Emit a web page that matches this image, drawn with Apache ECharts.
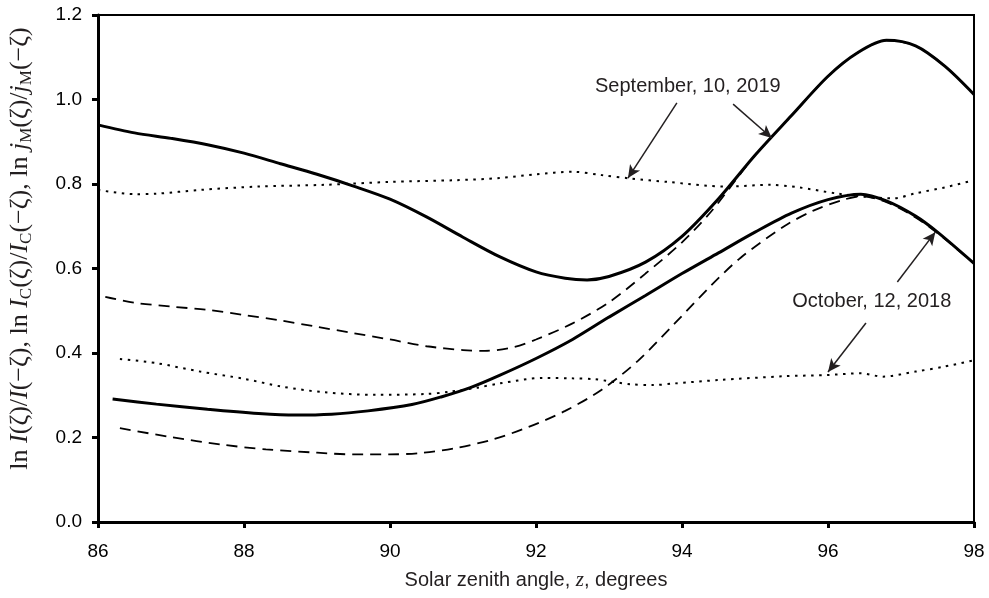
<!DOCTYPE html>
<html>
<head>
<meta charset="utf-8">
<script src="https://cdn.jsdelivr.net/npm/echarts@6/dist/echarts.min.js"></script>
<style>
html,body{margin:0;padding:0;background:#fff;}
#c{width:989px;height:598px;}
</style>
</head>
<body>
<div id="c"></div>
<script>
// ---- Data ----
const xTicks = [86, 88, 90, 92, 94, 96, 98];
const yTicks = [0.0, 0.2, 0.4, 0.6, 0.8, 1.0, 1.2];

// September, 10, 2019
const sepSolidX = [86.0, 86.5, 87.0, 87.5, 88.0, 88.5, 89.0, 89.5, 90.0, 90.5, 91.0, 91.5, 92.0, 92.4, 92.7, 93.0, 93.5, 94.0, 94.5, 95.0, 95.5, 96.0, 96.4, 96.8, 97.2, 97.6, 98.0];
const sepSolidY = [0.940, 0.921, 0.908, 0.893, 0.873, 0.848, 0.823, 0.795, 0.764, 0.722, 0.674, 0.628, 0.592, 0.577, 0.573, 0.581, 0.615, 0.676, 0.765, 0.868, 0.962, 1.055, 1.110, 1.140, 1.127, 1.079, 1.012];

const sepDashX = [86.1, 86.5, 87.0, 87.5, 88.0, 88.5, 89.0, 89.5, 90.0, 90.5, 91.0, 91.3, 91.7, 92.0, 92.5, 93.0, 93.5, 94.0, 94.4, 94.8, 95.0, 95.5, 96.0, 96.4, 96.8, 97.2, 97.6, 98.0];
const sepDashY = [0.533, 0.519, 0.510, 0.502, 0.490, 0.477, 0.462, 0.447, 0.432, 0.416, 0.407, 0.405, 0.414, 0.432, 0.470, 0.520, 0.588, 0.662, 0.735, 0.824, 0.868, 0.962, 1.055, 1.110, 1.140, 1.127, 1.079, 1.012];

const sepDotX = [86.0, 86.5, 86.8, 87.4, 88.2, 89.1, 90.0, 90.9, 91.5, 92.0, 92.5, 92.9, 93.3, 93.8, 94.6, 95.2, 95.6, 96.1, 96.5, 96.9, 97.2, 97.6, 98.0];
const sepDotY = [0.786, 0.776, 0.777, 0.786, 0.794, 0.798, 0.805, 0.809, 0.814, 0.823, 0.829, 0.821, 0.813, 0.805, 0.794, 0.798, 0.792, 0.778, 0.770, 0.766, 0.778, 0.792, 0.809];

// October, 12, 2018
const octSolidX = [86.2, 86.8, 87.5, 88.2, 88.7, 89.2, 89.7, 90.3, 90.7, 91.1, 91.5, 92.0, 92.5, 93.0, 93.5, 94.0, 94.5, 95.0, 95.5, 96.0, 96.45, 96.8, 97.2, 97.5, 98.0];
const octSolidY = [0.291, 0.279, 0.267, 0.257, 0.253, 0.255, 0.263, 0.278, 0.296, 0.318, 0.347, 0.387, 0.432, 0.485, 0.536, 0.588, 0.637, 0.686, 0.731, 0.763, 0.776, 0.760, 0.724, 0.686, 0.612];

const octDashX = [86.3, 87.0, 87.7, 88.3, 89.0, 89.5, 90.0, 90.4, 90.9, 91.4, 91.9, 92.4, 92.9, 93.4, 93.9, 94.4, 94.8, 95.4, 95.8, 96.2, 96.45, 96.8, 97.2, 97.5, 98.0];
const octDashY = [0.222, 0.201, 0.183, 0.172, 0.164, 0.160, 0.160, 0.163, 0.175, 0.195, 0.225, 0.263, 0.313, 0.382, 0.470, 0.560, 0.625, 0.700, 0.737, 0.762, 0.771, 0.757, 0.721, 0.684, 0.612];

const octDotX = [86.3, 86.8, 87.4, 88.0, 88.5, 89.1, 89.8, 90.5, 90.8, 91.2, 91.5, 92.1, 92.5, 92.8, 93.3, 93.6, 93.9, 94.5, 95.4, 96.0, 96.45, 96.75, 97.2, 97.6, 98.0];
const octDotY = [0.386, 0.376, 0.356, 0.339, 0.321, 0.307, 0.301, 0.303, 0.308, 0.318, 0.328, 0.341, 0.340, 0.338, 0.326, 0.324, 0.328, 0.336, 0.345, 0.348, 0.352, 0.344, 0.356, 0.368, 0.383];

// Annotations (data coordinates)
const sepLabel = { text: 'September, 10, 2019', x: 94.08, y: 1.03 };
const octLabel = { text: 'October, 12, 2018', x: 96.60, y: 0.521 };
const arrowFrom = [[93.93, 0.992], [94.70, 0.989], [96.95, 0.568], [96.52, 0.471]];
const arrowTo   = [[93.26, 0.814], [95.23, 0.909], [97.47, 0.686], [96.00, 0.355]];

// ---- Chart ----
const zip = (xs, ys) => xs.map((x, i) => [x, ys[i]]);
const INK = '#231f20';

function lineSeries(name, xs, ys, kind) {
  const ls = { color: '#000' };
  if (kind === 'solid') { ls.width = 3; ls.type = 'solid'; }
  else if (kind === 'dash') { ls.width = 1.8; ls.type = [11, 7]; }
  else { ls.width = 2; ls.type = [2.5, 5.5]; }
  return {
    name, type: 'line', data: zip(xs, ys), symbol: 'none', smooth: 0.3,
    lineStyle: ls, silent: true, z: kind === 'solid' ? 3 : 2
  };
}

const chart = echarts.init(document.getElementById('c'), null, { renderer: 'canvas' });
const yName = 'ln {i|I}(ζ)/{i|I}(−ζ), ln {i|I}{s|C}(ζ)/{i|I}{s|C}(−ζ), ln {i|j}{s|M}(ζ)/{i|j}{s|M}(−ζ)';

chart.setOption({
  animation: false,
  backgroundColor: '#fff',
  grid: {
    left: 98, right: 15, top: 15, bottom: 76, outerBoundsMode: 'none', containLabel: false,
    show: true, borderColor: '#000', borderWidth: 2, backgroundColor: 'transparent'
  },
  xAxis: {
    type: 'value', min: xTicks[0], max: xTicks[xTicks.length - 1], interval: 2,
    axisLine: { lineStyle: { color: '#000', width: 3 } },
    axisTick: { show: true, inside: false, length: 6, lineStyle: { color: '#000', width: 3 } },
    axisLabel: { color: '#000', fontFamily: 'Liberation Sans', fontSize: 19, margin: 20 },
    splitLine: { show: false },
    name: 'Solar zenith angle, {i|z}, degrees',
    nameLocation: 'middle', nameGap: 48,
    nameTextStyle: {
      color: '#231f20', fontFamily: 'Liberation Sans', fontSize: 20,
      rich: { i: { fontFamily: 'Liberation Serif', fontStyle: 'italic', fontSize: 21, color: '#231f20' } }
    }
  },
  yAxis: {
    type: 'value', min: yTicks[0], max: yTicks[yTicks.length - 1], interval: 0.2,
    axisLine: { lineStyle: { color: '#000', width: 3 } },
    axisTick: { show: true, inside: false, length: 6, lineStyle: { color: '#000', width: 3 } },
    axisLabel: { color: '#000', fontFamily: 'Liberation Sans', fontSize: 19, margin: 16, formatter: v => v.toFixed(1) },
    splitLine: { show: false },
    name: yName, nameLocation: 'middle', nameGap: 63, nameRotate: 90,
    nameTextStyle: {
      color: '#231f20', fontFamily: 'Liberation Serif', fontSize: 26, lineHeight: 30,
      padding: [0, 0, 0, 40],
      rich: {
        i: { fontFamily: 'Liberation Serif', fontStyle: 'italic', fontSize: 26, color: '#231f20' },
        s: { fontFamily: 'Liberation Serif', fontSize: 17, color: '#231f20', padding: [13, 0, 0, 0] }
      }
    }
  },
  series: [
    lineSeries('Sep solid', sepSolidX, sepSolidY, 'solid'),
    lineSeries('Sep dashed', sepDashX, sepDashY, 'dash'),
    lineSeries('Sep dotted', sepDotX, sepDotY, 'dot'),
    lineSeries('Oct solid', octSolidX, octSolidY, 'solid'),
    lineSeries('Oct dashed', octDashX, octDashY, 'dash'),
    lineSeries('Oct dotted', octDotX, octDotY, 'dot'),
    {
      name: 'annotations', type: 'line', data: [], silent: true,
      markLine: {
        silent: true, animation: false,
        symbol: ['none', 'arrow'], symbolSize: [9, 13],
        label: { show: false },
        lineStyle: { color: INK, width: 1.5, type: 'solid' },
        data: arrowFrom.map((f, i) => [{ coord: f }, { coord: arrowTo[i] }])
      },
      markPoint: {
        silent: true, animation: false, symbol: 'circle', symbolSize: 0,
        label: { show: true, position: 'inside', color: INK, fontFamily: 'Liberation Sans', fontSize: 20, formatter: p => p.name },
        data: [sepLabel, octLabel].map(l => ({ name: l.text, coord: [l.x, l.y] }))
      }
    }
  ]
});
</script>
</body>
</html>
